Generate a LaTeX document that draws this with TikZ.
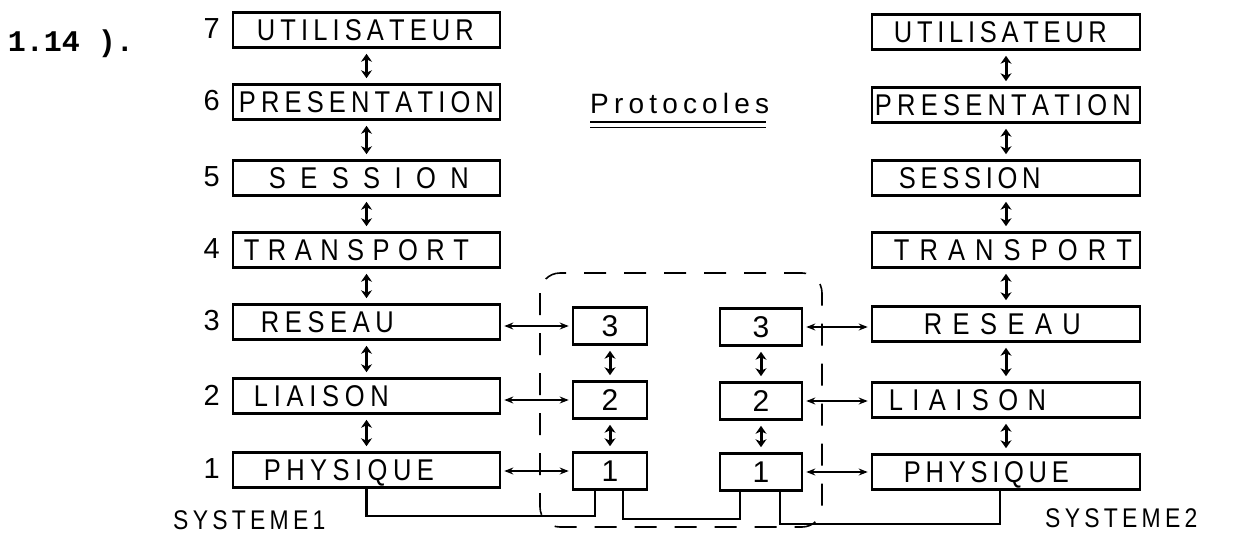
\documentclass[tikz,border=0pt]{standalone}
\usepackage{fontspec}
\setmainfont{Liberation Sans}
\newfontfamily\figmono{Liberation Mono}
\newfontfamily\narrowsans{Liberation Sans}[FakeStretch=0.85]
\usetikzlibrary{arrows.meta,calc}

% spread the letters of a word evenly over a given width
\newcommand\spreadword[2]{\makebox[#1][s]{#2}}

\begin{document}
\begin{tikzpicture}[x=1pt,y=-1pt,
  layerbox/.style={draw,line width=2.6pt,minimum width=267pt,minimum height=35pt,inner sep=0pt},
  relaybox/.style={draw,line width=2.6pt,minimum height=37pt,inner sep=0pt,font=\fontsize{30}{30}\selectfont},
  layertext/.style={anchor=west,inner sep=0pt,text depth=0pt,font=\narrowsans\fontsize{30}{30}\selectfont},
  levelnum/.style={inner sep=0pt,font=\fontsize{29}{29}\selectfont},
  updown/.style={{Stealth[length=8pt,width=11pt]}-{Stealth[length=8pt,width=11pt]},line width=3pt,shorten >=5pt,shorten <=5pt},
  link/.style={{Stealth[length=9pt,width=7pt]}-{Stealth[length=9pt,width=7pt]},line width=1.4pt,shorten >=3pt,shorten <=3pt},
  wire/.style={line width=2.4pt},
  relayzone/.style={line width=1.6pt,dash pattern=on 22pt off 18pt,rounded corners=20pt}]
\useasboundingbox (0,0) rectangle (1243,533);

% --- system 1 stack
\node[layerbox] (L7) at (366.5,30) {};
\node[layerbox] (L6) at (366.5,102) {};
\node[layerbox] (L5) at (366.5,178) {};
\node[layerbox] (L4) at (366.5,250) {};
\node[layerbox] (L3) at (366.5,322) {};
\node[layerbox] (L2) at (366.5,396) {};
\node[layerbox] (L1) at (366.5,470) {};

\node[layertext] (tL7) at ($(L7.west)+(25,0)$) {\spreadword{217pt}{U T I L I S A T E U R}};
\node[layertext] (tL6) at ($(L6.west)+(7,0)$) {\spreadword{255pt}{P R E S E N T A T I O N}};
\node[layertext] (tL5) at ($(L5.west)+(37,0)$) {\spreadword{200pt}{S E S S I O N}};
\node[layertext] (tL4) at ($(L4.west)+(12,0)$) {\spreadword{225pt}{T R A N S P O R T}};
\node[layertext] (tL3) at ($(L3.west)+(29,0)$) {\spreadword{133pt}{R E S E A U}};
\node[layertext] (tL2) at ($(L2.west)+(22,0)$) {\spreadword{135pt}{L I A I S O N}};
\node[layertext] (tL1) at ($(L1.west)+(32,0)$) {\spreadword{170pt}{P H Y S I Q U E}};

\foreach \n in {7,6,5,4,3,2,1}
  \node[levelnum] (n\n) at ($(L\n.west)+(-20,-1)$) {\n};

% --- system 2 stack
\node[layerbox,minimum width=268pt] (R7) at (1006,32) {};
\node[layerbox,minimum width=268pt] (R6) at (1006,105) {};
\node[layerbox,minimum width=268pt] (R5) at (1006,178) {};
\node[layerbox,minimum width=268pt] (R4) at (1006,250) {};
\node[layerbox,minimum width=268pt] (R3) at (1006,324) {};
\node[layerbox,minimum width=268pt] (R2) at (1006,400) {};
\node[layerbox,minimum width=268pt] (R1) at (1006,472) {};

\node[layertext] (tR7) at ($(R7.west)+(23,0)$) {\spreadword{187pt}{U T I L I S A T E U R}};
\node[layertext] (tR6) at ($(R6.west)+(4,0)$) {\spreadword{256pt}{P R E S E N T A T I O N}};
\node[layertext] (tR5) at ($(R5.west)+(28,0)$) {\spreadword{140pt}{S E S S I O N}};
\node[layertext] (tR4) at ($(R4.west)+(23,0)$) {\spreadword{238pt}{T R A N S P O R T}};
\node[layertext] (tR3) at ($(R3.west)+(53,0)$) {\spreadword{157pt}{R E S E A U}};
\node[layertext] (tR2) at ($(R2.west)+(18,0)$) {\spreadword{157pt}{L I A I S O N}};
\node[layertext] (tR1) at ($(R1.west)+(33,0)$) {\spreadword{165pt}{P H Y S I Q U E}};

% --- relay nodes
\node[relaybox,minimum width=74pt] (A3) at (610,326) {3};
\node[relaybox,minimum width=74pt] (A2) at (610,400) {2};
\node[relaybox,minimum width=74pt] (A1) at (610,471) {1};
\node[relaybox,minimum width=82pt] (B3) at (761,327) {3};
\node[relaybox,minimum width=82pt] (B2) at (761,401) {2};
\node[relaybox,minimum width=82pt] (B1) at (761,472) {1};

\draw[relayzone] (540,273) rectangle (822,527);

% --- vertical exchanges inside each stack
\foreach \a/\b in {7/6,6/5,5/4,4/3,3/2,2/1} {
  \draw[updown] (L\a.south) -- (L\b.north);
  \draw[updown] (R\a.south) -- (R\b.north);
}
\foreach \a/\b in {3/2,2/1} {
  \draw[updown] (A\a.south) -- (A\b.north);
  \draw[updown] (B\a.south) -- (B\b.north);
}

% --- peer links to the relay
\foreach \k in {3,2,1} {
  \draw[link] (L\k.east |- A\k) -- (A\k.west);
  \draw[link] (B\k.east) -- (R\k.west |- B\k);
}

% --- physical medium
\draw[wire] (L1.south) |- ($(A1.south)+(-15,25)$) -- ($(A1.south)+(-15,0)$);
\draw[wire] ($(A1.south)+(13,0)$) -- ($(A1.south)+(13,28)$) -| ($(B1.south)+(-21,0)$);
\draw[wire] ($(B1.south)+(19,0)$) -- ($(B1.south)+(19,32)$) -| ($(R1.south)+(-6,0)$);

% --- captions
\node[inner sep=0pt,font=\figmono\bfseries\fontsize{30}{30}\selectfont] (fig) at (71,44) {1.14 ).};
\node[inner sep=0pt,anchor=base west,font=\fontsize{28}{28}\selectfont] (proto) at (590,113) {\spreadword{176pt}{P r o t o c o l e s}};
\draw[line width=1.6pt] (proto.base west |- 0,122) -- (proto.base east |- 0,122);
\draw[line width=1.6pt] (proto.base west |- 0,127.5) -- (proto.base east |- 0,127.5);
\node[layertext,font=\narrowsans\fontsize{27}{27}\selectfont] (s1) at (173,520) {\spreadword{127pt}{S Y S T E M E 1}};
\node[layertext,font=\narrowsans\fontsize{27}{27}\selectfont] (s2) at (1045,518) {\spreadword{127pt}{S Y S T E M E 2}};
\end{tikzpicture}
\end{document}
